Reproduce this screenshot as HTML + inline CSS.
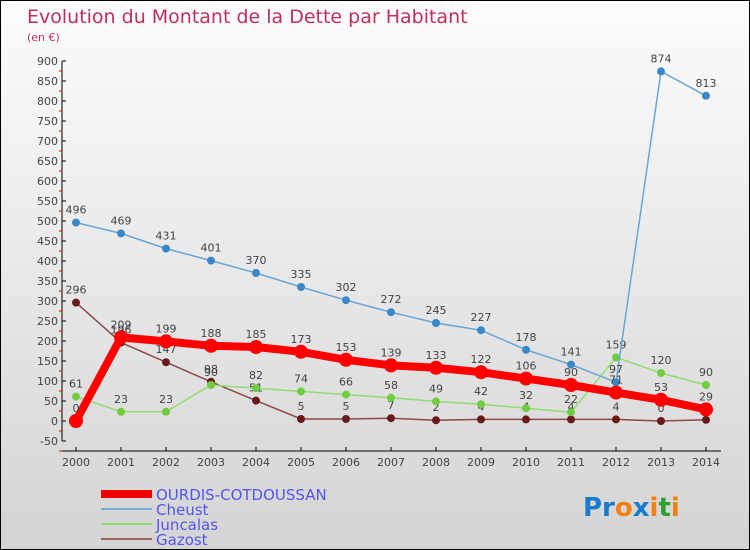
<!DOCTYPE html>
<html><head><meta charset="utf-8"><style>
body{margin:0}
#c{position:relative;width:748px;height:548px;border:1px solid #000;background:linear-gradient(#fcfcfc,#d4d4d4);font-family:"DejaVu Sans","Liberation Sans",sans-serif;overflow:hidden}
svg text{font-family:"DejaVu Sans","Liberation Sans",sans-serif}
</style></head><body>
<div id="c">
<svg id="s" width="748" height="548">
<text x="26" y="22" font-size="19" fill="#c0305a">Evolution du Montant de la Dette par Habitant</text>
<text x="26" y="40" font-size="11" fill="#c0305a">(en €)</text>
<g id="ax"></g><g id="ser"></g>
<g>
<line x1="100" y1="493" x2="151" y2="493" stroke="#e00" stroke-width="8"/>
<text x="155" y="499" font-size="15" fill="#5555ee">OURDIS-COTDOUSSAN</text>
<line x1="100" y1="508" x2="151" y2="508" stroke="#7aadd0" stroke-width="2"/>
<text x="155" y="514" font-size="15" fill="#5555ee">Cheust</text>
<line x1="100" y1="523" x2="151" y2="523" stroke="#90dd70" stroke-width="2"/>
<text x="155" y="529" font-size="15" fill="#5555ee">Juncalas</text>
<line x1="100" y1="538" x2="151" y2="538" stroke="#a06060" stroke-width="2"/>
<text x="155" y="544" font-size="15" fill="#5555ee">Gazost</text>
</g>
<text x="582" y="515" font-size="26" font-weight="bold"><tspan fill="#1a7acc">Pr</tspan><tspan fill="#f08010">o</tspan><tspan fill="#1a7acc">x</tspan><tspan fill="#f08010">i</tspan><tspan fill="#30a030">t</tspan><tspan fill="#f08010">i</tspan></text>
</svg>
</div>
<script>
const years=[2000,2001,2002,2003,2004,2005,2006,2007,2008,2009,2010,2011,2012,2013,2014];
const yTicks=[900,850,800,750,700,650,600,550,500,450,400,350,300,250,200,150,100,50,0,-50];
const ourdis=[0,209,199,188,185,173,153,139,133,122,106,90,71,53,29];
const cheust=[496,469,431,401,370,335,302,272,245,227,178,141,97,874,813];
const juncalas=[61,23,23,90,82,74,66,58,49,42,32,22,159,120,90];
const gazost=[296,196,147,98,51,5,5,7,2,4,4,4,4,0,3];
const NS="http://www.w3.org/2000/svg";
function X(i){return 75+i*45;}
function Y(v){return 420-v*0.4;}
function mk(t,a,p){const e=document.createElementNS(NS,t);for(const k in a)e.setAttribute(k,a[k]);p.appendChild(e);return e;}
const ax=document.getElementById('ax');
const yl=mk('line',{x1:61,y1:Y(900),x2:61,y2:Y(-50),stroke:'#000'},ax);


yTicks.forEach(v=>{
 mk('line',{x1:61,y1:Y(v),x2:65,y2:Y(v),stroke:'#000'},ax);
 mk('line',{x1:58,y1:Y(v-25),x2:61,y2:Y(v-25),stroke:'#e00'},ax);
 const t=mk('text',{x:57,y:Y(v)+4,'font-size':11,fill:'#444','text-anchor':'end'},ax);t.textContent=v;
 
 
});
const xl=mk('line',{x1:61,y1:450,x2:720,y2:450,stroke:'#000'},ax);


years.forEach((y,i)=>{
 mk('line',{x1:X(i),y1:446,x2:X(i),y2:450,stroke:'#000'},ax);
 const t=mk('text',{x:X(i),y:465,'font-size':11,fill:'#444','text-anchor':'middle'},ax);t.textContent=y;
 
 
});
const ser=document.getElementById('ser');
function draw(name,data,col,dot,w,r){
 const g=mk('g',{},ser);
 
 
 mk('polyline',{points:data.map((v,i)=>X(i)+','+Y(v)).join(' '),fill:'none',stroke:col,'stroke-width':w},g);
 data.forEach((v,i)=>{
  const c=mk('circle',{cx:X(i),cy:Y(v),r:r,fill:dot},g);
  
  
  const t=mk('text',{x:X(i),y:Y(v)-9,'font-size':11,fill:'#444','text-anchor':'middle'},g);t.textContent=v;
 });
}
draw('gazost',gazost,'#8a4a4a','#6a1a1a',1.5,4);
draw('juncalas',juncalas,'#90dd70','#70cc40',1.5,4);
draw('cheust',cheust,'#6aa5d5','#3a88c8',1.5,4);
draw('ourdis',ourdis,'#f00','#f00',8,7);
</script>
</body></html>
